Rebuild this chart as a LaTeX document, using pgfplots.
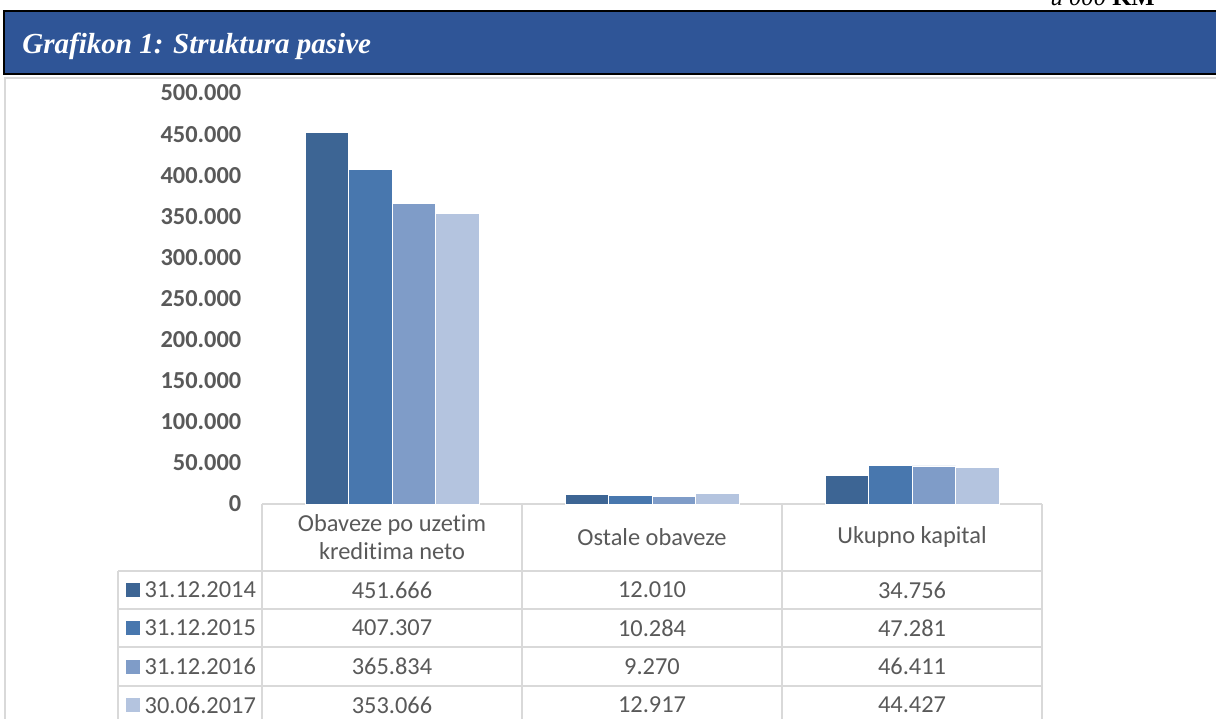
\documentclass[border=0pt]{standalone}
\usepackage{fontspec}
\setmainfont{Carlito}[Ligatures=NoCommon]
\newfontfamily\seriffont{Liberation Serif}
\usepackage{pgfplots}
\pgfplotsset{compat=1.18}
\definecolor{sA}{HTML}{3D6594}
\definecolor{sB}{HTML}{4877AE}
\definecolor{sC}{HTML}{7F9CC8}
\definecolor{sD}{HTML}{B4C4DF}
\definecolor{tgray}{HTML}{595959}
\definecolor{lgray}{HTML}{D9D9D9}
\definecolor{titleblue}{HTML}{2F5597}
\begin{document}
\begin{tikzpicture}
\path[use as bounding box] (0,0) rectangle (912pt,-538.5pt);
\clip (0,0) rectangle (912pt,-538.5pt);
\begin{scope}[x=0.75pt,y=-0.75pt]
 \draw[lgray, line width=1.5pt] (5,720) -- (5,78) -- (1220,78);
 \draw[black, line width=1.5pt, fill=titleblue] (4,11) rectangle (1225,74);
 \node[anchor=base west, text=white, inner sep=0pt, font=\seriffont\bfseries\itshape\fontsize{21.8}{25}\selectfont] at (22,53) {Grafikon 1: Struktura pasive};
 \node[anchor=base east, inner sep=0pt, font=\seriffont\fontsize{18.5}{20}\selectfont] at (1155,5) {\textit{u 000} \textbf{KM}};
 % table grid
 \begin{scope}[lgray, line width=1.5pt]
  \draw (262,504) -- (1042,504);
  \foreach \yy in {571,609,647,686} {\draw (118,\yy) -- (1042,\yy);}
  \foreach \xx in {262,522,782,1042} {\draw (\xx,504) -- (\xx,720);}
  \draw (118,571) -- (118,720);
 \end{scope}
 \begin{scope}[every node/.style={text=tgray, font=\fontsize{18.3}{21}\selectfont}]
  \node[align=center] at (392,537) {Obaveze po uzetim\\kreditima neto};
  \node at (652,537) {Ostale obaveze};
  \node at (912,537) {Ukupno kapital};
  \node at (392,590) {451.666};
  \node at (652,590) {12.010};
  \node at (912,590) {34.756};
  \node at (392,628) {407.307};
  \node at (652,628) {10.284};
  \node at (912,628) {47.281};
  \node at (392,666.5) {365.834};
  \node at (652,666.5) {9.270};
  \node at (912,666.5) {46.411};
  \node at (392,705) {353.066};
  \node at (652,705) {12.917};
  \node at (912,705) {44.427};
  \node[anchor=west] at (140,590) {31.12.2014};
  \node[anchor=west] at (140,628) {31.12.2015};
  \node[anchor=west] at (140,666.5) {31.12.2016};
  \node[anchor=west] at (140,705) {30.06.2017};
 \end{scope}
 \fill[sA] (126,583) rectangle (140,597);
 \fill[sB] (126,621) rectangle (140,635);
 \fill[sC] (126,659.5) rectangle (140,673.5);
 \fill[sD] (126,698) rectangle (140,712);
\end{scope}
\begin{axis}[
  at={(196.5pt,-378pt)}, anchor=south west,
  scale only axis, width=585pt, height=308.25pt,
  xmin=-0.5, xmax=2.5, ymin=0, ymax=500000,
  ybar=0pt, bar width=32.625pt,
  axis line style={draw=none}, tick style={draw=none},
  xtick=\empty,
  ytick={0,50000,...,500000},
  scaled y ticks=false,
  /pgf/number format/assume math mode=true,
  yticklabel style={/pgf/number format/.cd, fixed, precision=0, 1000 sep={.}, /tikz/.cd,
    font=\bfseries\fontsize{18.3}{20}\selectfont, text=tgray, anchor=east, xshift=-12pt},
  clip=false,
]
\addplot[fill=sA, draw=white, line width=0.5pt] coordinates {(0,451666) (1,12010) (2,34756)};
\addplot[fill=sB, draw=white, line width=0.5pt] coordinates {(0,407307) (1,10284) (2,47281)};
\addplot[fill=sC, draw=white, line width=0.5pt] coordinates {(0,365834) (1,9270) (2,46411)};
\addplot[fill=sD, draw=white, line width=0.5pt] coordinates {(0,353066) (1,12917) (2,44427)};
\end{axis}
\end{tikzpicture}
\end{document}
